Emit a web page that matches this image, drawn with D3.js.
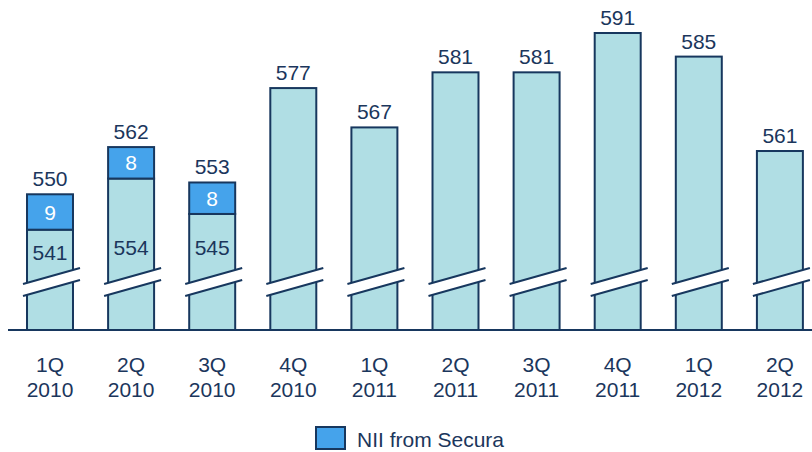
<!DOCTYPE html>
<html><head><meta charset="utf-8">
<script src="https://cdn.jsdelivr.net/npm/d3@7"></script>
<style>body{margin:0;background:#fff}svg{display:block;font-family:"Liberation Sans",Arial,sans-serif}</style>
</head><body>
<svg id="c" width="812" height="452"></svg>
<script>
const quarters = ["1Q","2Q","3Q","4Q","1Q","2Q","3Q","4Q","1Q","2Q"];
const years = ["2010","2010","2010","2010","2011","2011","2011","2011","2012","2012"];
const totals = [550,562,553,577,567,581,581,591,585,561];
const secura = [9,8,8,0,0,0,0,0,0,0];
const legendLabel = "NII from Secura";

const light = "#B0DEE4", blue = "#45A3EB", navy = "#17375E", text = "#1B365C";
const fs = 21;
const svg = d3.select("#c");
const idx = d3.range(totals.length);
const x = d3.scaleBand().domain(idx).range([9.45, 820.45]).paddingInner(0.433).paddingOuter(0.2165);
const y = d3.scaleLinear().domain([515.5, 591]).range([330, 33]);
const bw = x.bandwidth();
const base = y.domain()[0];

const g = svg.append("g");
g.selectAll("rect.base").data(idx).join("rect")
  .attr("x", i => x(i)).attr("width", bw)
  .attr("y", i => y(totals[i]-secura[i])).attr("height", i => y(base) - y(totals[i]-secura[i]))
  .attr("fill", light).attr("stroke", navy).attr("stroke-width", 2);
g.selectAll("rect.sec").data(idx.filter(i => secura[i] > 0)).join("rect")
  .attr("x", i => x(i)).attr("width", bw)
  .attr("y", i => y(totals[i])).attr("height", i => y(totals[i]-secura[i]) - y(totals[i]))
  .attr("fill", blue).attr("stroke", navy).attr("stroke-width", 2);

const brk = g.selectAll("g.brk").data(idx).join("g")
  .attr("transform", i => `translate(${x(i)+bw/2},0)`);
const x0 = -27, x1 = 30, yl = 284, yr = 268, gap = 12;
brk.append("path").attr("d", `M${x0},${yl}L${x1},${yr}L${x1},${yr+gap}L${x0},${yl+gap}Z`).attr("fill", "#fff");
brk.append("path").attr("d", `M${x0},${yl}L${x1},${yr}M${x0},${yl+gap}L${x1},${yr+gap}`)
  .attr("stroke", navy).attr("stroke-width", 2).attr("fill", "none");

g.append("line").attr("x1", 8).attr("x2", 812).attr("y1", y(base)).attr("y2", y(base))
  .attr("stroke", navy).attr("stroke-width", 2);

g.selectAll("text.tot").data(idx).join("text")
  .attr("x", i => x(i)+bw/2).attr("y", i => y(totals[i]) - 8)
  .attr("text-anchor", "middle").attr("font-size", fs).attr("fill", text)
  .text(i => totals[i]);
g.selectAll("text.sec").data(idx.filter(i => secura[i] > 0)).join("text")
  .attr("x", i => x(i)+bw/2).attr("y", i => (y(totals[i]) + y(totals[i]-secura[i]))/2)
  .attr("dy", "0.36em").attr("text-anchor", "middle").attr("font-size", fs).attr("fill", "#fff")
  .text(i => secura[i]);
g.selectAll("text.bl").data(idx.filter(i => secura[i] > 0)).join("text")
  .attr("x", i => x(i)+bw/2).attr("y", i => Math.max(y(totals[i]-secura[i]) + 23, 247))
  .attr("dy", "0.36em").attr("text-anchor", "middle").attr("font-size", fs).attr("fill", text)
  .text(i => totals[i]-secura[i]);

const xl = g.selectAll("text.xl").data(idx).join("text")
  .attr("text-anchor", "middle").attr("font-size", fs).attr("fill", text);
xl.append("tspan").attr("x", i => x(i)+bw/2).attr("y", 372).text(i => quarters[i]);
xl.append("tspan").attr("x", i => x(i)+bw/2).attr("y", 397).text(i => years[i]);

const lg = svg.append("g");
lg.append("rect").attr("x", 316).attr("y", 427).attr("width", 29).attr("height", 22)
  .attr("fill", blue).attr("stroke", navy).attr("stroke-width", 2);
lg.append("text").attr("x", 357).attr("y", 447).attr("font-size", fs).attr("fill", text).text(legendLabel);
</script>
</body></html>
